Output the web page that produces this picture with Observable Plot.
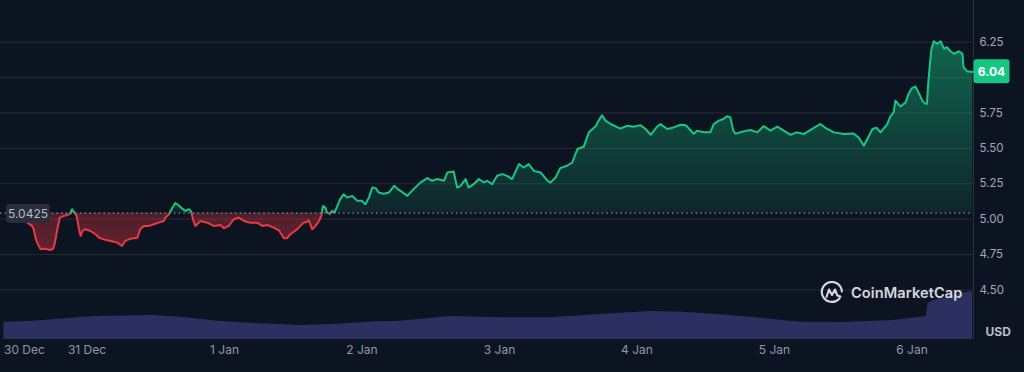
<!DOCTYPE html>
<html><head><meta charset="utf-8">
<script src="https://cdn.jsdelivr.net/npm/d3@7"></script>
<script src="https://cdn.jsdelivr.net/npm/@observablehq/plot@0.6"></script>
<style>
html,body{margin:0;padding:0;background:#0d1421;}
#wrap{position:relative;width:1024px;height:372px;overflow:hidden;font-family:Inter,"Noto Sans",sans-serif;background:#0d1421;}
#wrap > svg{position:absolute;left:0;top:0;}
#wm{position:absolute;left:820px;top:281px;height:24px;display:flex;align-items:center;gap:7px;color:#e6e8ee;opacity:0.92;font-family:Inter,sans-serif;font-weight:600;font-size:14.6px;letter-spacing:0.1px;}
</style></head><body><div id="wrap"></div>
<script>
// hours since 30 Dec 2023 00:00 UTC
const hours = [10.0,12.4,14.4,14.7,15.0,15.3,15.6,15.9,16.5,17.05,
17.6,18.1,18.4,18.7,19.0,19.25,19.95,20.5,21.0,21.4,
21.8,22.2,22.6,22.9,23.2,23.7,24.6,25.5,26.1,26.9,
28.1,29.3,30.1,30.7,31.6,32.8,33.3,33.9,34.8,35.7,
36.5,37.4,37.7,38.3,38.9,39.4,40.0,40.6,41.2,41.8,
42.2,42.5,42.9,43.8,45.0,46.1,47.3,47.9,48.75,49.6,
50.5,51.4,52.5,53.7,54.6,55.45,56.6,57.5,58.35,58.9,
59.5,60.7,61.8,62.4,62.7,63.3,63.9,64.5,64.9,65.2,
65.6,65.9,66.4,66.8,67.2,67.7,68.2,68.8,69.4,70.3,
71.2,72.0,72.6,73.2,73.8,74.4,74.9,75.8,76.7,77.6,
78.2,78.7,79.9,81.0,82.2,83.4,84.25,85.1,86.3,86.9,
88.0,88.6,89.2,90.1,90.6,91.5,92.4,93.3,93.8,94.7,
95.6,96.5,97.3,98.2,99.4,100.2,101.1,102.0,103.2,104.3,
104.9,105.8,106.6,107.8,108.7,109.6,110.7,111.6,112.8,113.3,
113.9,114.5,115.4,117.1,118.3,119.4,120.6,121.5,122.4,123.5,
124.1,125.3,126.4,127.6,128.5,129.3,129.9,130.5,131.7,132.8,
133.4,134.3,135.1,135.7,136.3,136.8,137.2,138.6,139.8,141.0,
142.1,143.3,144.5,145.6,146.8,147.9,149.1,150.3,152.0,153.1,
154.4,156.1,157.8,158.7,159.6,160.2,161.1,161.8,162.5,163.7,
164.2,164.8,165.1,166.0,166.9,167.4,168.0,168.6,169.2,169.8,
170.3,170.6,170.9,171.35,171.8,172.4,173.0,173.6,174.1,174.7,
175.3,176.2,176.8,177.0,177.6,178.6];
const prices = [5.023,5.009,4.952,4.929,4.869,4.834,4.810,4.787,4.791,4.787,
4.782,4.791,4.834,4.904,4.964,5.011,5.023,5.028,5.035,5.070,
5.046,5.023,4.929,4.881,4.916,4.929,4.916,4.893,4.869,4.857,
4.846,4.834,4.810,4.846,4.862,4.869,4.929,4.952,4.952,4.964,
4.975,4.987,5.011,5.035,5.081,5.113,5.098,5.074,5.058,5.070,
5.051,4.999,4.952,4.987,4.975,4.952,4.959,4.935,4.952,4.999,
5.011,4.987,4.975,4.975,4.952,4.959,4.940,4.921,4.865,4.865,
4.893,4.929,4.975,4.982,4.992,4.929,4.952,4.987,5.023,5.093,
5.081,5.046,5.035,5.058,5.046,5.093,5.141,5.176,5.152,5.164,
5.129,5.129,5.105,5.152,5.223,5.219,5.188,5.180,5.188,5.235,
5.214,5.200,5.164,5.212,5.258,5.290,5.271,5.283,5.271,5.329,
5.336,5.223,5.235,5.283,5.223,5.247,5.283,5.259,5.271,5.247,
5.306,5.318,5.306,5.283,5.389,5.365,5.389,5.341,5.329,5.275,
5.258,5.294,5.360,5.377,5.400,5.495,5.511,5.613,5.657,5.696,
5.734,5.696,5.672,5.639,5.660,5.653,5.664,5.637,5.596,5.653,
5.671,5.637,5.648,5.667,5.664,5.630,5.603,5.625,5.614,5.613,
5.672,5.696,5.707,5.727,5.719,5.625,5.603,5.620,5.630,5.613,
5.657,5.625,5.653,5.625,5.596,5.613,5.601,5.630,5.672,5.639,
5.613,5.601,5.605,5.577,5.519,5.566,5.637,5.646,5.613,5.672,
5.724,5.754,5.837,5.795,5.825,5.885,5.926,5.936,5.890,5.837,
5.816,5.814,5.993,6.191,6.257,6.239,6.257,6.203,6.215,6.186,
6.168,6.186,6.168,6.073,6.045,6.040];
const volHours = [9.5,14.7,20.6,23.4,26.4,30.7,35.6,40.8,46.8,52.5,61.3,67.0,73.0,78.7,87.4,96.2,104.9,113.6,122.4,128.1,134.0,139.8,148.5,156.0,164.8,167.7,170.5,170.8,171.8,174.5,176.5,178.6];
const volumes  = [17.3,18.3,21,22.3,23.3,23.5,24,22,18.3,16.3,14,15,17.3,18.3,23,21.7,21.7,25,28,27.3,25,22.3,17.3,17,19,21,23,36,39,43,46,48];
const baseline = 5.0425;
const lastPrice = 6.04;
const yTicks = [4.5,4.75,5.0,5.25,5.5,5.75,6.0,6.25];
const yTickLabels = [4.5,4.75,5.0,5.25,5.5,5.75,6.25]; // 6.00 is hidden under the price tag
const xTickDays = ["2023-12-31","2024-01-01","2024-01-02","2024-01-03","2024-01-04","2024-01-05","2024-01-06"];
const xTickLabels = ["31 Dec","1 Jan","2 Jan","3 Jan","4 Jan","5 Jan","6 Jan"];
const startLabel = "30 Dec";
const currency = "USD";

const W = 1024, H = 372;
const t0 = Date.UTC(2023, 11, 30);
const toDate = h => new Date(t0 + h * 3600e3);
const DAY = 864e5, anchor = Date.UTC(2023, 11, 31);
const xDomain = [new Date(anchor - 86.5 / 137.5 * DAY), new Date(anchor + (973 - 86.5) / 137.5 * DAY)];
const priceData = hours.map((h, i) => ({date: toDate(h), price: prices[i]}));
const volData = volHours.map((h, i) => ({date: toDate(h), vol: volumes[i]}));
const tickDates = xTickDays.map(s => new Date(s + "T00:00:00Z"));

const common = {width: W, height: H, marginLeft: 0, marginRight: 51, marginTop: 0, marginBottom: 33,
  style: {background: "transparent", fontFamily: "Inter, sans-serif", overflow: "visible"}};

const volChart = Plot.plot({...common,
  x: {type: "utc", domain: xDomain, axis: null},
  y: {domain: [0, 50], range: [339, 289], axis: null},
  marks: [Plot.areaY(volData, {x: "date", y: "vol", fill: "#2b3060", curve: "linear"})]
});

const chart = Plot.plot({...common,
  x: {type: "utc", domain: xDomain, axis: null},
  y: {domain: [4.5, 6.25], range: [289.4, 41.7], axis: null},
  marks: [
    Plot.ruleY(yTicks, {stroke: "#262b38", strokeWidth: 1}),
    Plot.ruleX([xDomain[1]], {stroke: "#2a2f3c", strokeWidth: 1}),
    Plot.areaY(priceData, {x: "date", y1: baseline, y2: "price", fill: "url(#cmcFill)"}),
    Plot.ruleY([baseline], {stroke: "#8a919e", strokeDasharray: "1.5,3.2", strokeWidth: 1.3}),
    Plot.lineY(priceData, {x: "date", y: "price", stroke: "url(#cmcLine)", strokeWidth: 2, strokeLinejoin: "round"}),
    Plot.text(yTickLabels, {y: d => d, text: d => d.toFixed(2), frameAnchor: "right", textAnchor: "start", dx: 6, fill: "#a1a7bb", fontSize: 11.5}),
    Plot.text(tickDates, {x: d => d, text: xTickLabels, frameAnchor: "bottom", dy: 14, fill: "#8f97a8", fontSize: 12}),
    Plot.text([xDomain[0]], {x: d => d, text: [startLabel], frameAnchor: "bottom", dy: 14, dx: 3.5, textAnchor: "start", fill: "#8f97a8", fontSize: 12}),
    Plot.text([currency], {frameAnchor: "bottom-right", text: d => d, dx: 12, dy: -4, textAnchor: "start", fill: "#b8bdc9", fontSize: 12, fontWeight: 700}),
    Plot.text([baseline], {y: d => d, text: d => String(d), frameAnchor: "left", dx: 27.5, dy: 1, textAnchor: "middle", fill: "#b3b9c5", fontSize: 12}),
    Plot.text([lastPrice], {y: d => d, text: d => d.toFixed(2), frameAnchor: "right", dx: 18, textAnchor: "middle", fill: "#ffffff", fontSize: 12, fontWeight: 700})
  ]
});

const wrap = document.getElementById("wrap");
wrap.appendChild(volChart);
wrap.appendChild(chart);

// gradients
const yb = chart.scale("y").apply(baseline);
const yTop = chart.scale("y").apply(6.25);
const ybot = chart.scale("y").apply(4.75);
const defs = d3.select(chart).insert("defs", ":first-child");
const lg = defs.append("linearGradient").attr("id", "cmcLine").attr("gradientUnits", "userSpaceOnUse")
  .attr("x1", 0).attr("y1", 0).attr("x2", 0).attr("y2", H);
[[yb / H, "#16c784", 1], [yb / H, "#ea3943", 1]].forEach(([o, c, a]) =>
  lg.append("stop").attr("offset", o).attr("stop-color", c).attr("stop-opacity", a));
const fg = defs.append("linearGradient").attr("id", "cmcFill").attr("gradientUnits", "userSpaceOnUse")
  .attr("x1", 0).attr("y1", 0).attr("x2", 0).attr("y2", H);
[[yTop / H, "#16c784", 0.45], [yb / H, "#16c784", 0.1], [yb / H, "#ea3943", 0.3], [ybot / H, "#ea3943", 0.4]].forEach(([o, c, a]) =>
  fg.append("stop").attr("offset", o).attr("stop-color", c).attr("stop-opacity", a));

// label boxes behind the baseline and last-price tags
function boxFor(str, w, h, fill, rx) {
  const t = Array.from(chart.querySelectorAll("text")).find(e => e.textContent === str);
  if (!t) return;
  const b = t.getBBox();
  const cx = b.x + b.width / 2, cy = b.y + b.height / 2;
  const r = document.createElementNS("http://www.w3.org/2000/svg", "rect");
  r.setAttribute("x", cx - w / 2); r.setAttribute("y", cy - h / 2);
  r.setAttribute("width", w); r.setAttribute("height", h);
  r.setAttribute("rx", rx); r.setAttribute("fill", fill);
  const tr = t.getAttribute("transform");
  if (tr) r.setAttribute("transform", tr);
  t.parentNode.insertBefore(r, t);
}
boxFor(String(baseline), 44, 19, "#2a2e3b", 4);
boxFor(lastPrice.toFixed(2), 36, 24, "#16c784", 3);

// watermark
const wm = document.createElement("div");
wm.id = "wm";
wm.innerHTML = `<svg width="24" height="24" viewBox="0 0 24 24" style="position:static"><path d="M19.6 17.2 A10 10 0 1 1 21.8 10.5" fill="none" stroke="#e6e8ee" stroke-width="2.2" stroke-linecap="round"/><path d="M6.5 16 L9 8.5 L12 14 L15 8.5 L17.3 14.5 L20.5 15.5" fill="none" stroke="#e6e8ee" stroke-width="2.1" stroke-linejoin="round" stroke-linecap="round"/></svg><span>CoinMarketCap</span>`;
wrap.appendChild(wm);
</script>
</body></html>
